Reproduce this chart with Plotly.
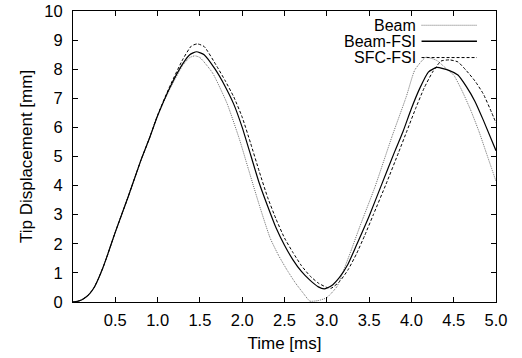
import plotly.graph_objects as go

# ---- data ----
beam_fsi_t = [0, 0.05, 0.1, 0.15, 0.2, 0.25, 0.3, 0.35, 0.4, 0.5, 0.65, 0.8, 0.9, 1.0, 1.15, 1.3, 1.38, 1.46, 1.55, 1.68, 1.8, 1.9, 2.0, 2.1, 2.2, 2.3, 2.4, 2.5, 2.6, 2.7, 2.8, 2.9, 2.97, 3.05, 3.15, 3.25, 3.35, 3.5, 3.65, 3.8, 3.9, 4.0, 4.1, 4.2, 4.3, 4.45, 4.55, 4.65, 4.75, 4.85, 5.0]
beam_fsi_v = [0, 0.02, 0.07, 0.16, 0.3, 0.5, 0.8, 1.15, 1.55, 2.4, 3.6, 4.85, 5.6, 6.4, 7.4, 8.2, 8.5, 8.6, 8.5, 8.0, 7.4, 6.8, 6.0, 5.05, 4.1, 3.3, 2.55, 1.95, 1.45, 1.05, 0.75, 0.52, 0.45, 0.55, 0.85, 1.3, 1.95, 2.95, 4.05, 5.15, 5.85, 6.65, 7.35, 7.9, 8.06, 7.95, 7.8, 7.4, 6.9, 6.25, 5.2]

sfc_fsi_t = [0, 0.05, 0.1, 0.15, 0.2, 0.25, 0.3, 0.35, 0.4, 0.5, 0.65, 0.8, 0.9, 1.0, 1.15, 1.3, 1.4, 1.47, 1.55, 1.7, 1.8, 1.9, 2.0, 2.1, 2.2, 2.3, 2.4, 2.5, 2.6, 2.7, 2.8, 2.9, 3.0, 3.05, 3.15, 3.25, 3.35, 3.45, 3.55, 3.7, 3.85, 3.95, 4.05, 4.15, 4.25, 4.35, 4.45, 4.55, 4.65, 4.75, 4.85, 4.95, 5.0]
sfc_fsi_v = [0, 0.02, 0.07, 0.16, 0.3, 0.5, 0.8, 1.15, 1.55, 2.4, 3.6, 4.85, 5.6, 6.42, 7.45, 8.35, 8.8, 8.87, 8.78, 8.1, 7.6, 7.05, 6.35, 5.45, 4.5, 3.6, 2.85, 2.2, 1.7, 1.25, 0.9, 0.65, 0.5, 0.47, 0.7, 1.1, 1.65, 2.3, 3.0, 4.05, 5.15, 5.9, 6.65, 7.35, 7.9, 8.28, 8.32, 8.25, 7.95, 7.6, 7.15, 6.5, 6.15]

beam_t = [0, 0.05, 0.1, 0.15, 0.2, 0.25, 0.3, 0.35, 0.4, 0.5, 0.65, 0.8, 0.9, 1.0, 1.15, 1.3, 1.38, 1.44, 1.5, 1.65, 1.82, 1.97, 2.07, 2.2, 2.33, 2.43, 2.53, 2.63, 2.72, 2.8, 2.9, 3.0, 3.12, 3.2, 3.29, 3.39, 3.57, 3.77, 3.94, 4.04, 4.17, 4.3, 4.43, 4.5, 4.6, 4.7, 4.8, 4.9, 5.0]
beam_v = [0, 0.02, 0.07, 0.16, 0.3, 0.5, 0.8, 1.15, 1.55, 2.4, 3.6, 4.85, 5.6, 6.4, 7.35, 8.15, 8.4, 8.46, 8.4, 7.87, 6.83, 5.57, 4.6, 3.35, 2.2, 1.6, 1.1, 0.65, 0.31, 0.03, 0.05, 0.15, 0.53, 1.1, 1.79, 2.59, 3.96, 5.68, 7.06, 7.97, 8.41, 8.3, 7.97, 7.8, 7.25, 6.6, 5.85, 5.0, 4.15]

series_names = ["Beam", "Beam-FSI", "SFC-FSI"]

x_tickvals = [0.5, 1.0, 1.5, 2.0, 2.5, 3.0, 3.5, 4.0, 4.5, 5.0]
x_ticktext = ["0.5", "1.0", "1.5", "2.0", "2.5", "3.0", "3.5", "4.0", "4.5", "5.0"]
y_tickvals = [0, 1, 2, 3, 4, 5, 6, 7, 8, 9, 10]

FONT = "Liberation Sans, Arial, Helvetica, sans-serif"

fig = go.Figure()
fig.add_trace(go.Scatter(x=beam_t, y=beam_v, mode="lines", name=series_names[0],
                         line=dict(color="#6e6e6e", width=1, dash="1px,1px", shape="spline", smoothing=0.5)))
fig.add_trace(go.Scatter(x=beam_fsi_t, y=beam_fsi_v, mode="lines", name=series_names[1],
                         line=dict(color="#000000", width=1.2, shape="spline", smoothing=0.5)))
fig.add_trace(go.Scatter(x=sfc_fsi_t, y=sfc_fsi_v, mode="lines", name=series_names[2],
                         line=dict(color="#000000", width=1, dash="3px,2px", shape="spline", smoothing=0.5)))

# gnuplot-style legend: text right-aligned, sample line to its right
legend_rows_y = [0.951, 0.896, 0.84]
legend_styles = [dict(color="#6e6e6e", width=1, dash="1px,1px"),
                 dict(color="#000000", width=1.5),
                 dict(color="#000000", width=1, dash="3px,2px")]
for name, yy, st in zip(series_names, legend_rows_y, legend_styles):
    fig.add_annotation(x=0.816, y=yy, xref="paper", yref="paper", text=name,
                       showarrow=False, xanchor="right", yanchor="middle",
                       font=dict(family=FONT, size=16, color="black"))
    fig.add_shape(type="line", xref="paper", yref="paper", x0=0.824, x1=0.955,
                  y0=yy, y1=yy, line=st)

axis_common = dict(showline=True, linecolor="black", linewidth=1, mirror="allticks",
                   ticks="inside", ticklen=5, tickcolor="black", tickwidth=1,
                   showgrid=False, zeroline=False, automargin=False,
                   tickfont=dict(family=FONT, size=16.5, color="black"))

fig.update_xaxes(range=[0, 5], tickvals=x_tickvals, ticktext=x_ticktext,
                 title=dict(text="Time [ms]", font=dict(family=FONT, size=17, color="black"), standoff=9),
                 ticklabelstandoff=3, **axis_common)
fig.update_yaxes(range=[0, 10], tickvals=y_tickvals,
                 title=dict(text="Tip Displacement [mm]", font=dict(family=FONT, size=17, color="black"), standoff=7),
                 ticklabelstandoff=6, **axis_common)

fig.update_layout(width=522, height=358, margin=dict(l=73, r=26, t=11, b=56),
                  paper_bgcolor="white", plot_bgcolor="white", showlegend=False)

fig.write_html("out.html")
